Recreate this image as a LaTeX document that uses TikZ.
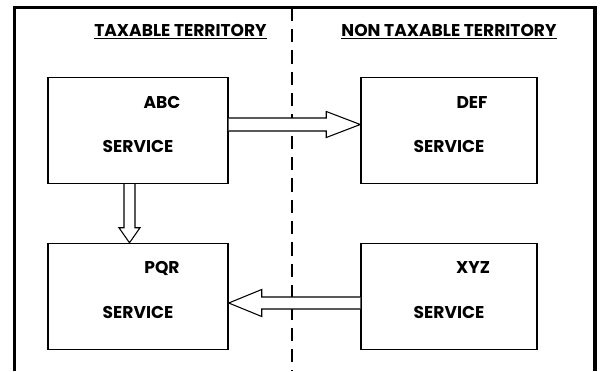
\documentclass[tikz,border=0pt]{standalone}
\usepackage{fontspec}
\setmainfont{Poppins}
\usepackage{tikz}
\usetikzlibrary{calc}

\begin{document}
\begin{tikzpicture}[x=0.75pt, y=-0.75pt,
    box/.style={draw, line width=1.1pt, minimum height=79.5pt, inner sep=0pt},
    txt/.style={anchor=base, font=\fontsize{12.8}{15}\selectfont\bfseries},
    bigarrow/.style={draw, line width=0.8pt, fill=white, line join=miter}]
    \useasboundingbox (0,0) rectangle (602,371);
    % Frame and border
    \draw[line width=2.3pt] (14.5,371) -- (14.5,7.5) -- (595,7.5) -- (595,371);
    \draw[line width=1.3pt, dash pattern=on 10pt off 6pt] (292,7.5) -- (292,371);

    % Headings
    \node[txt] (taxhead) at (180.5,36) {\underline{TAXABLE TERRITORY}};
    \node[txt] (nontaxhead) at (449,36) {\underline{NON TAXABLE TERRITORY}};

    % Boxes
    \node[box, minimum width=135pt] (abc) at (138,130.5) {};
    \node[box, minimum width=132pt] (def) at (449,130.5) {};
    \node[box, minimum width=135pt] (pqr) at (138,296.5) {};
    \node[box, minimum width=132pt] (xyz) at (449,296.5) {};

    % Box texts
    \node[txt] (abcname) at (162,108) {ABC};
    \node[txt] (abcserv) at (138,152) {SERVICE};
    \node[txt] (defname) at (472,108) {DEF};
    \node[txt] (defserv) at (449,152) {SERVICE};
    \node[txt] (pqrname) at (162,273) {PQR};
    \node[txt] (pqrserv) at (138,318) {SERVICE};
    \node[txt] (xyzname) at (473,273) {XYZ};
    \node[txt] (xyzserv) at (449,318) {SERVICE};

    % Arrows
    \draw[bigarrow] ($(abc.east)+(0,-12.5)$) -- ($(def.west)+(-34,-12.5)$)
        -- ($(def.west)+(-34,-19)$) -- ($(def.west)+(0,-6)$)
        -- ($(def.west)+(-34,7)$) -- ($(def.west)+(-34,0.5)$)
        -- ($(abc.east)+(0,0.5)$);
    \draw[bigarrow] ($(abc.south)+(-14,0)$) -- ($(pqr.north)+(-14,-15)$)
        -- ($(pqr.north)+(-19,-15)$) -- ($(pqr.north)+(-8.5,0)$)
        -- ($(pqr.north)+(2,-15)$) -- ($(pqr.north)+(-3,-15)$)
        -- ($(abc.south)+(-3,0)$);
    \draw[bigarrow] ($(xyz.west)+(0,0.5)$) -- ($(pqr.east)+(33,0.5)$)
        -- ($(pqr.east)+(33,-7)$) -- ($(pqr.east)+(0,6.5)$)
        -- ($(pqr.east)+(33,20)$) -- ($(pqr.east)+(33,12.5)$)
        -- ($(xyz.west)+(0,12.5)$);
\end{tikzpicture}
\end{document}
